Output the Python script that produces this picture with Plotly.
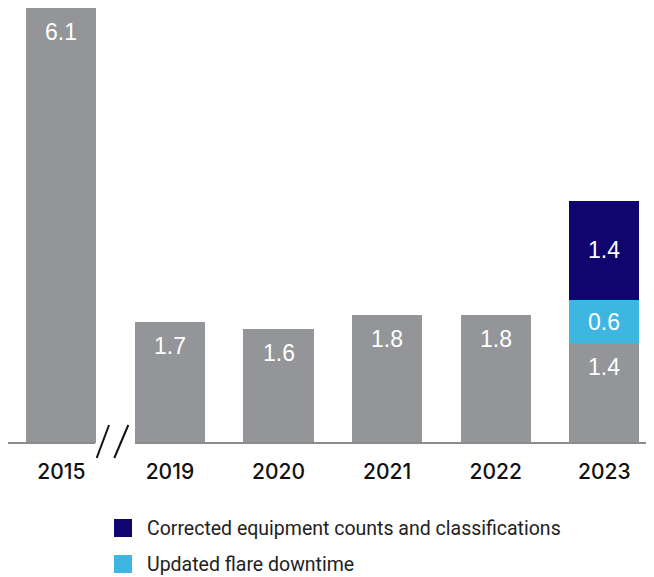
import plotly.graph_objects as go

years = ["2015", "2019", "2020", "2021", "2022", "2023"]
base_values = [6.1, 1.7, 1.6, 1.8, 1.8, 1.4]
flare_values = [0, 0, 0, 0, 0, 0.6]
equip_values = [0, 0, 0, 0, 0, 1.4]
legend_labels = ["Corrected equipment counts and classifications", "Updated flare downtime"]

GRAY = "#939598"
NAVY = "#10046f"
CYAN = "#3db7e2"

# page body has an 8px margin; figure is sized to fit the window
OFF = 8
W, H = 646, 569
L, R, T, B = 0, 0, 0, 134
PW = W - L - R
PH = H - T - B
BASE_Y = 443  # window pixel of the baseline


def px(xp):
    return (xp - OFF - L) / PW


def py(yp):
    return (BASE_Y - yp) / PH


unit = 108.6
x_left = -(61.3 - OFF) / unit
x_right = x_left + PW / unit

fig = go.Figure()
fig.add_bar(x=years, y=base_values, marker=dict(color=GRAY, line=dict(width=0)),
            showlegend=False, hoverinfo="skip")
fig.add_bar(x=years, y=flare_values, marker=dict(color=CYAN, line=dict(width=0)),
            name=legend_labels[1], showlegend=False, hoverinfo="skip")
fig.add_bar(x=years, y=equip_values, marker=dict(color=NAVY, line=dict(width=0)),
            name=legend_labels[0], showlegend=False, hoverinfo="skip")

annotations = []
lab_font = dict(family="Liberation Sans, Arial, sans-serif", size=23, color="white")
for i, yr in enumerate(years):
    annotations.append(dict(x=i, y=base_values[i], xref="x", yref="y", text=f"{base_values[i]:.1f}",
                            showarrow=False, yshift=-24, yanchor="middle", font=lab_font))
    if flare_values[i] > 0:
        annotations.append(dict(x=i, y=base_values[i] + flare_values[i] / 2, xref="x", yref="y",
                                text=f"{flare_values[i]:.1f}", showarrow=False, yanchor="middle",
                                font=lab_font))
    if equip_values[i] > 0:
        annotations.append(dict(x=i, y=base_values[i] + flare_values[i] + equip_values[i] / 2,
                                xref="x", yref="y", text=f"{equip_values[i]:.1f}", showarrow=False,
                                yanchor="middle", font=lab_font))

# legend (manual)
leg_font = dict(family="Roboto, sans-serif", size=19.5, color="#222222")
for k, lab in enumerate(legend_labels):
    top = 519 + k * 36
    annotations.append(dict(x=px(145), y=py(top + 9), xref="paper", yref="paper", text=lab,
                            showarrow=False, xanchor="left", yanchor="middle", font=leg_font))

shapes = []
for k, col in enumerate([NAVY, CYAN]):
    top = 519 + k * 36
    shapes.append(dict(type="rect", xref="paper", yref="paper", x0=px(114), x1=px(132),
                       y0=py(top + 18), y1=py(top), fillcolor=col, line=dict(width=0)))

# axis baseline with break
axis_col = "#8c8c8c"
shapes.append(dict(type="line", xref="paper", yref="paper", x0=px(8), x1=px(95), y0=py(443), y1=py(443),
                   line=dict(color=axis_col, width=2)))
shapes.append(dict(type="line", xref="paper", yref="paper", x0=px(135), x1=px(654), y0=py(443), y1=py(443),
                   line=dict(color=axis_col, width=2)))
# break slashes
for x_lo, x_hi in [(96.7, 109), (114.3, 128.3)]:
    shapes.append(dict(type="line", xref="paper", yref="paper", x0=px(x_lo), y0=py(458), x1=px(x_hi), y1=py(425),
                       line=dict(color="#111111", width=2)))

fig.update_layout(
    width=W, height=H,
    margin=dict(l=L, r=R, t=T, b=B),
    barmode="stack",
    bargap=0.355,
    plot_bgcolor="white",
    paper_bgcolor="white",
    annotations=annotations,
    shapes=shapes,
    xaxis=dict(type="category", range=[x_left, x_right], showline=False, showgrid=False, zeroline=False,
               tickfont=dict(family="Inter, Roboto, sans-serif", size=21, color="#111111", weight=500),
               ticks="outside", ticklen=10, tickcolor="rgba(0,0,0,0)", fixedrange=True),
    yaxis=dict(range=[0, 6.1], visible=False, fixedrange=True),
)

fig.write_html("out.html")
